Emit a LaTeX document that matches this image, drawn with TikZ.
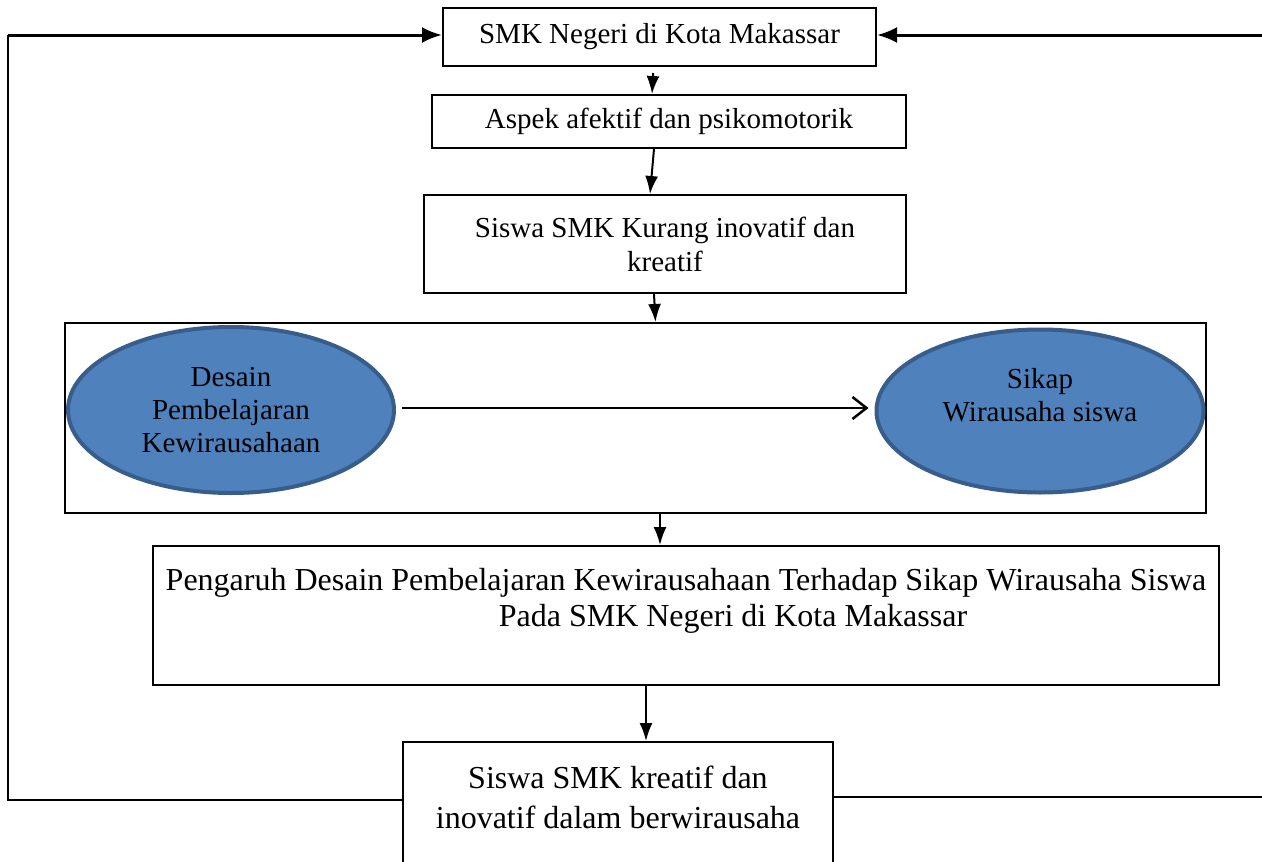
\documentclass[tikz,border=0pt]{standalone}
\usepackage{fontspec}
\setmainfont{Liberation Serif}
\usetikzlibrary{shapes.geometric,arrows.meta}
\definecolor{ovalblue}{HTML}{4F81BD}
\definecolor{ovalline}{HTML}{385D8A}

\begin{document}
\begin{tikzpicture}[x=1pt, y=-1pt,
    box/.style={rectangle, draw=black, line width=2pt, fill=white, align=center, inner sep=0pt, font=\fontsize{29}{34}\selectfont},
    oval/.style={ellipse, draw=ovalline, line width=4pt, fill=ovalblue, align=center, inner sep=0pt, font=\fontsize{29}{33}\selectfont},
    flow/.style={-{Latex[length=18pt, width=13pt]}, line width=2pt},
    back/.style={-{Latex[length=20pt, width=16pt]}, line width=3pt}]
    \useasboundingbox (0,0) rectangle (1262,862);

    \node[box, minimum width=433pt, minimum height=58pt] (smk)    at (659.5, 37)  {SMK Negeri di Kota Makassar};
    \node[box, minimum width=474pt, minimum height=53pt] (aspek)  at (669, 121.5) {Aspek afektif dan psikomotorik};
    \node[box, minimum width=482pt, minimum height=98pt] (kurang) at (665, 244)   {Siswa SMK Kurang inovatif dan\\kreatif};
    \node[box, minimum width=1141pt, minimum height=190pt] (frame) at (635.5, 418) {};
    \node[oval, minimum width=326pt, minimum height=166pt] (desain) at (231, 410)  {Desain\\Pembelajaran\\Kewirausahaan};
    \node[oval, minimum width=327pt, minimum height=163pt] (sikap)  at (1040, 411) {Sikap\\Wirausaha siswa\\~};
    \node[box, minimum width=1066pt, minimum height=139pt, font=\fontsize{32}{36}\selectfont] (judul) at (686, 615.5) {Pengaruh Desain Pembelajaran Kewirausahaan Terhadap Sikap Wirausaha Siswa\\\hspace*{94pt}Pada SMK Negeri di Kota Makassar\\~};
    \node[box, minimum width=430pt, minimum height=150pt, anchor=north, font=\fontsize{32}{40}\selectfont] (hasil) at (618, 741) {Siswa SMK kreatif dan\\inovatif dalam berwirausaha\\~};

    \coordinate (lb) at (8, 800);
    \coordinate (lt) at (8, 35);
    \coordinate (rb) at (1264, 797);
    \coordinate (rt) at (1264, 35);

    \draw[flow, shorten <=6pt] ([xshift=-6pt]smk.south) -- ([xshift=-17pt]aspek.north);
    \draw[flow] ([xshift=-15pt]aspek.south) -- ([xshift=-15pt]kurang.north);
    \draw[flow] ([xshift=-11pt]kurang.south) -- ([xshift=20pt]frame.north);
    \draw[-{Straight Barb[length=14pt, width=22pt]}, line width=2.5pt, shorten <=6pt, shorten >=6pt] ([yshift=2pt]desain.east) -- ([yshift=3pt]sikap.west);
    \draw[flow] ([xshift=24.5pt]frame.south) -- ([xshift=-26pt]judul.north);
    \draw[flow] ([xshift=-40pt]judul.south) -- ([xshift=28pt]hasil.north);

    \draw[line width=2pt] (hasil.west |- lb) -- (lb) -- (lt);
    \draw[back] (lt) -- (smk.west |- lt);
    \draw[line width=2pt] (hasil.east |- rb) -- (rb) -- (rt);
    \draw[back] (rt) -- (smk.east |- rt);
\end{tikzpicture}
\end{document}
